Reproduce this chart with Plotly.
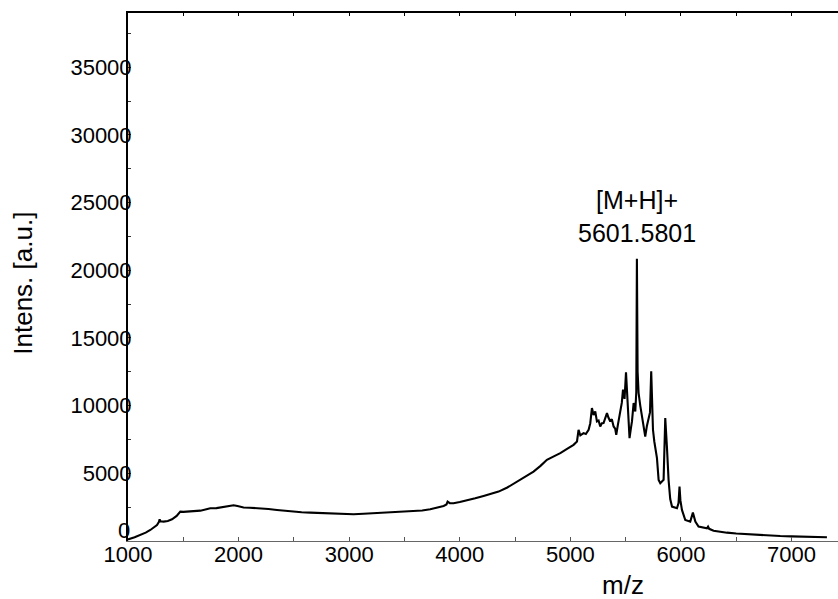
import plotly.graph_objects as go

# MALDI-TOF spectrum, m/z vs intensity
mz = [1000, 1005, 1060, 1111, 1160, 1202, 1240, 1262, 1280, 1286, 1295, 1322, 1360, 1398,
      1440, 1473, 1500, 1533, 1600, 1654, 1700, 1744, 1800, 1850, 1895, 1955, 1990, 2045,
      2100, 2196, 2270, 2347, 2420, 2497, 2570, 2648, 2750, 2859, 2950, 3040, 3130, 3221,
      3310, 3401, 3490, 3582, 3660, 3733, 3800, 3854, 3880, 3890, 3910, 3944, 4000, 4065,
      4140, 4215, 4290, 4351, 4430, 4517, 4590, 4667, 4730, 4788, 4850, 4909, 4970, 5029,
      5060, 5065, 5074, 5090, 5119, 5140, 5165, 5180, 5195, 5210, 5225, 5240, 5255, 5270,
      5285, 5300, 5315, 5331, 5345, 5361, 5375, 5391, 5405, 5415, 5430, 5451, 5465, 5476,
      5490, 5503, 5515, 5525, 5535, 5547, 5557, 5572, 5587, 5596, 5601.5801, 5608, 5617,
      5632, 5648, 5662, 5677, 5692, 5707, 5720, 5731, 5740, 5747, 5759, 5771, 5783, 5798,
      5813, 5828, 5843, 5858, 5866, 5873, 5888, 5903, 5919, 5940, 5964, 5978, 5987, 5995,
      6009, 6039, 6084, 6108, 6118, 6130, 6159, 6200, 6235, 6245, 6255, 6295, 6350, 6416,
      6500, 6597, 6700, 6800, 6898, 7000, 7100, 7199, 7260, 7320]
intensity = [100, 125, 280, 444, 620, 814, 1020, 1184, 1420, 1600, 1450, 1430, 1480, 1600,
             1850, 2170, 2150, 2170, 2200, 2240, 2330, 2420, 2430, 2480, 2540, 2640, 2580, 2470,
             2460, 2420, 2360, 2295, 2230, 2170, 2120, 2095, 2070, 2050, 2010, 1975, 2010, 2050,
             2070, 2095, 2130, 2170, 2250, 2345, 2450, 2590, 2700, 2910, 2800, 2790, 2880, 2980,
             3150, 3330, 3480, 3650, 3950, 4390, 4750, 5130, 5550, 5995, 6250, 6490, 6800, 7105,
             7350, 7700, 8215, 7800, 7970, 7900, 8215, 8700, 9820, 9300, 9570, 8830, 8900, 8460,
             8700, 8710, 9000, 9450, 9100, 8830, 9000, 8460, 8300, 7850, 8600, 9570, 10200, 11175,
             10500, 12460, 10300, 9000, 7600, 8300, 8830, 10190, 9570, 11000, 20850, 12500, 10930,
             10000, 9080, 8300, 7720, 8500, 8955, 9500, 12530, 9500, 8215, 7350, 6800, 6120, 4515,
             4270, 4400, 4515, 9080, 7200, 6980, 4515, 3100, 2540, 2500, 2420, 2800, 4020, 3000,
             2295, 1554, 1430, 2095, 1700, 1430, 1060, 980, 940, 1060, 900, 760, 680, 615,
             550, 495, 440, 400, 370, 345, 330, 320, 300, 275]

peak_mz = 5601.5801
peak_label = ["[M+H]+", "5601.5801"]

x_ticks = list(range(1000, 7001, 500))
x_text = [str(v) if v % 1000 == 0 else "" for v in x_ticks]
y_ticks = list(range(0, 37501, 2500))
# the zero label is set a little higher, clear of the "1000" below it
y_text = [str(v) if (v % 5000 == 0 and v > 0) else "" for v in y_ticks]

FONT = "Liberation Sans, Arial, sans-serif"

fig = go.Figure()
fig.add_trace(go.Scatter(x=mz, y=intensity, mode="lines",
                         line=dict(color="black", width=2.1),
                         hoverinfo="skip", showlegend=False))
# invisible trace carrying the top axis
fig.add_trace(go.Scatter(x=[mz[0]], y=[intensity[0]], xaxis="x2", mode="lines",
                         line=dict(width=0), hoverinfo="skip", showlegend=False))

fig.update_layout(
    width=838, height=599,
    margin=dict(l=128, r=0, t=13, b=58),
    paper_bgcolor="white", plot_bgcolor="white",
    font=dict(family=FONT, color="black"),
    xaxis=dict(range=[1000, 7420], tickvals=x_ticks, ticktext=x_text,
               ticks="inside", ticklen=4, tickcolor="#555", tickwidth=1,
               showline=True, linecolor="#666", linewidth=1,
               showgrid=False, zeroline=False, ticklabelstandoff=-6,
               tickfont=dict(size=22, family=FONT)),
    xaxis2=dict(range=[1000, 7420], overlaying="x", side="top", matches="x",
                tickvals=x_ticks, showticklabels=False,
                ticks="inside", ticklen=3, tickcolor="black", tickwidth=1,
                showline=True, linecolor="black", linewidth=2,
                showgrid=False, zeroline=False),
    yaxis=dict(range=[0, 39000], tickvals=y_ticks, ticktext=y_text,
               ticks="inside", ticklen=3, tickcolor="#333", tickwidth=1,
               showline=True, linecolor="black", linewidth=2,
               showgrid=False, zeroline=False, ticklabelstandoff=-10,
               tickfont=dict(size=22, family=FONT)),
)

fig.add_annotation(x=0, y=0, xref="paper", yref="y", text="0", showarrow=False,
                   xanchor="right", yanchor="middle", xshift=3, yshift=11,
                   borderpad=0,
                   font=dict(size=22, family=FONT, color="black"))
fig.add_annotation(x=peak_mz, y=24000, xref="x", yref="y",
                   text="<br>".join(peak_label), showarrow=False,
                   xanchor="center", yanchor="middle",
                   font=dict(size=25, family=FONT, color="black"))
fig.add_annotation(x=0.697, y=-0.083, xref="paper", yref="paper",
                   text="m/z", showarrow=False, xanchor="center", yanchor="middle",
                   font=dict(size=26, family=FONT, color="black"))
fig.add_annotation(x=-0.148, y=0.489, xref="paper", yref="paper",
                   text="Intens. [a.u.]", showarrow=False, textangle=-90,
                   xanchor="center", yanchor="middle",
                   font=dict(size=26, family=FONT, color="black"))

fig.write_html("out.html")
